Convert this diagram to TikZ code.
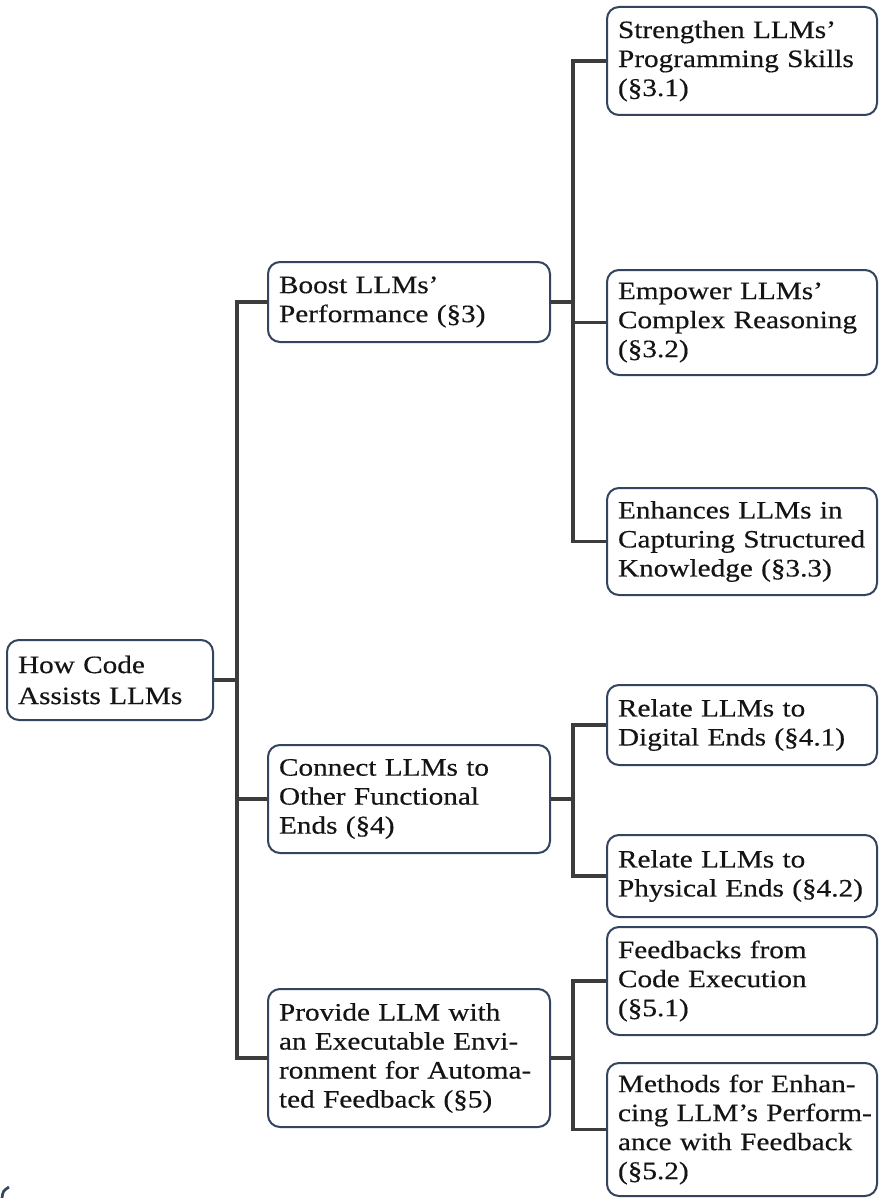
\documentclass[tikz,border=0pt]{standalone}
\usepackage{fontspec}
\setmainfont[FakeStretch=1.17,FakeBold=0.4]{Liberation Serif}
\definecolor{boxblue}{HTML}{34435E}
\definecolor{linkgray}{HTML}{3C3C3C}
\definecolor{textblack}{HTML}{141414}
% \treebox{name}{x1}{y1}{x2}{y2}{text}: a rounded box given by its corners
\newcommand\treebox[6]{%
  \pgfmathsetmacro\bw{(#4-#2)*0.75}%
  \pgfmathsetmacro\bh{(#5-#3)*0.75}%
  \pgfmathsetmacro\tw{(#4-#2)*0.75-16.5}%
  \node[box, minimum width=\bw pt, minimum height=\bh pt, text width=\tw pt]
    (#1) at ({(#2+#4)/2},{(#3+#5)/2}) {#6};}
\begin{document}
\begin{tikzpicture}[x=0.75pt,y=-0.75pt,
  box/.style={draw=boxblue, line width=1.5pt, rounded corners=9pt, fill=white,
    align=left, inner xsep=8.25pt, inner ysep=0pt, text=textblack,
    font=\fontsize{18.75}{21.75}\selectfont},
  link/.style={draw=linkgray, line width=2.6pt}]

\fill[white] (0,0) rectangle (879,1198);
\useasboundingbox (0,0) rectangle (879,1198);

% root
\treebox{root}{7}{640}{213}{720}{How Code\\[1.5pt]Assists LLMs}

% first level
\treebox{boost}{268}{262}{550}{342}{Boost LLMs’\\Performance (§3)}
\treebox{connect}{268}{745}{550}{853}{Connect LLMs to\\Other Functional\\Ends (§4)}
\treebox{provide}{268}{989}{550}{1127}{Provide LLM with\\an Executable Envi-\\ronment for Automa-\\ted Feedback (§5)}

% second level
\treebox{strengthen}{607}{7}{877}{115}{Strengthen LLMs’\\Programming Skills\\(§3.1)}
\treebox{empower}{607}{270}{877}{375}{Empower LLMs’\\Complex Reasoning\\(§3.2)}
\treebox{enhances}{607}{488}{877}{595}{Enhances LLMs in\\Capturing Structured\\Knowledge (§3.3)}
\treebox{digital}{607}{685}{877}{765}{Relate LLMs to\\Digital Ends (§4.1)}
\treebox{physical}{607}{835}{877}{917}{Relate LLMs to\\Physical Ends (§4.2)}
\treebox{feedbacks}{607}{927}{877}{1035}{Feedbacks from\\Code Execution\\(§5.1)}
\treebox{methods}{607}{1063}{877}{1196}{\mbox{Methods for Enhan-}\\\mbox{cing LLM’s Perform-}\\\mbox{ance with Feedback}\\(§5.2)}

% trunk positions
\coordinate (t1) at (237,0);
\coordinate (t2) at (573,0);

% root to first level
\draw[link] (root.east) -- (root.east -| t1) |- (boost.west);
\draw[link] (root.east -| t1) |- (connect.west);
\draw[link] (root.east -| t1) |- (provide.west);

% first level to second level
\draw[link] (boost.east) -- (boost.east -| t2) |- (strengthen.west);
\draw[link] (boost.east -| t2) |- (empower.west);
\draw[link] (boost.east -| t2) |- (enhances.west);

\draw[link] (connect.east) -- (connect.east -| t2) |- (digital.west);
\draw[link] (connect.east -| t2) |- (physical.west);

\draw[link] (provide.east) -- (provide.east -| t2) |- (feedbacks.west);
\draw[link] (provide.east -| t2) |- (methods.west);

% small stroke in the lower left corner
\draw[boxblue, line width=2pt] (2,1198) .. controls (3,1191) .. (9,1187);
\end{tikzpicture}
\end{document}
